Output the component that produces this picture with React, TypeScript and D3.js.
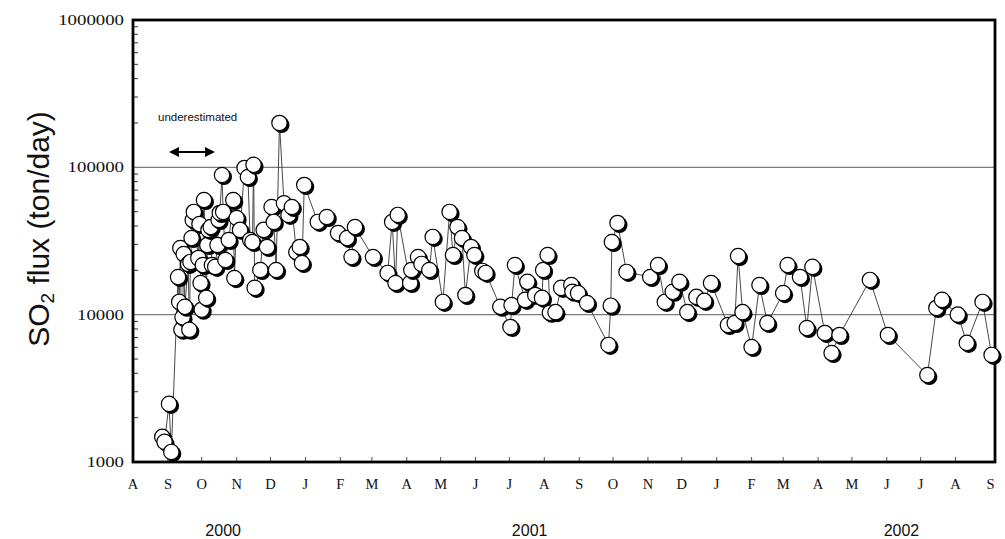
import React from "react";
import * as d3 from "d3";

// ---- data ----
const dates: string[] = [
  "2000-08-27","2000-08-29","2000-09-02","2000-09-04","2000-09-10","2000-09-11","2000-09-12","2000-09-13",
  "2000-09-14","2000-09-15","2000-09-16","2000-09-19","2000-09-20","2000-09-21","2000-09-22","2000-09-23",
  "2000-09-24","2000-09-28","2000-09-29","2000-09-30","2000-10-01","2000-10-02","2000-10-03","2000-10-05",
  "2000-10-06","2000-10-07","2000-10-09","2000-10-10","2000-10-13","2000-10-15","2000-10-16","2000-10-17",
  "2000-10-19","2000-10-20","2000-10-22","2000-10-25","2000-10-29","2000-10-30","2000-11-01","2000-11-04",
  "2000-11-08","2000-11-11","2000-11-13","2000-11-15","2000-11-16","2000-11-17","2000-11-22","2000-11-25",
  "2000-11-28","2000-12-02","2000-12-04","2000-12-06","2000-12-09","2000-12-13","2000-12-17","2000-12-20",
  "2000-12-24","2000-12-27","2000-12-29","2000-12-31","2001-01-12","2001-01-20","2001-01-30","2001-02-07",
  "2001-02-11","2001-02-14","2001-03-02","2001-03-15","2001-03-19","2001-03-22","2001-03-24","2001-04-04",
  "2001-04-05","2001-04-11","2001-04-14","2001-04-21","2001-04-24","2001-05-03","2001-05-09","2001-05-12",
  "2001-05-16","2001-05-20","2001-05-23","2001-05-28","2001-05-31","2001-06-07","2001-06-10","2001-06-23",
  "2001-07-02","2001-07-03","2001-07-06","2001-07-15","2001-07-17","2001-07-24","2001-07-30","2001-07-31",
  "2001-08-04","2001-08-06","2001-08-11","2001-08-16","2001-08-25","2001-08-26","2001-08-31","2001-09-08",
  "2001-09-27","2001-09-29","2001-09-30","2001-10-05","2001-10-13","2001-11-03","2001-11-10","2001-11-16",
  "2001-11-23","2001-11-29","2001-12-06","2001-12-14","2001-12-21","2001-12-27","2002-01-11","2002-01-17",
  "2002-01-20","2002-01-24","2002-02-01","2002-02-08","2002-02-15","2002-03-01","2002-03-05","2002-03-16",
  "2002-03-22","2002-03-27","2002-04-07","2002-04-13","2002-04-20","2002-05-17","2002-06-02","2002-07-07",
  "2002-07-15","2002-07-20","2002-08-03","2002-08-11","2002-08-25","2002-09-02",
];

const fluxValues: number[] = [
  1480, 1370, 2480, 1170, 18000, 12200, 28300, 7900,
  9600, 25800, 11300, 22100, 7900, 22800, 33100, 43900,
  49800, 24200, 41200, 16400, 10800, 21700, 60000, 13000,
  29700, 37600, 39300, 21700, 21100, 29700, 43900, 49000,
  88700, 49800, 23500, 32100, 60000, 17700, 45300, 37600,
  99000, 85900, 32100, 31100, 104000, 15200, 20100, 37600,
  28800, 53800, 42600, 20100, 200000, 57000, 47500, 53800,
  26600, 28800, 22400, 75900, 42600, 46000, 35800, 33100,
  24600, 39300, 24600, 19200, 42600, 16400, 47500, 16400,
  20100, 24600, 22100, 20100, 33700, 12200, 49800, 25400,
  39300, 33100, 13600, 28800, 25400, 19800, 19200, 11300,
  8250, 11600, 21700, 12600, 16700, 13600, 13000, 20100,
  25400, 10300, 10400, 15200, 15900, 14300, 14000, 12000,
  6230, 11500, 31100, 41900, 19500, 18000, 21700, 12200,
  14300, 16700, 10400, 13200, 12400, 16400, 8500, 8770,
  25000, 10400, 6030, 15900, 8770, 14000, 21700, 18000,
  8110, 21100, 7510, 5490, 7280, 17200, 7280, 3890,
  11100, 12600, 10000, 6430, 12200, 5330,
];

const monthLabels: string[] = [
  "A","S","O","N","D","J","F","M","A","M","J","J","A",
  "S","O","N","D","J","F","M","A","M","J","J","A","S",
];
const yearLabels: string[] = ["2000", "2001", "2002"];
const yearLabelAnchors: string[] = ["2000-10-20", "2001-07-19", "2002-06-14"];
const yTickValues: number[] = [1000, 10000, 100000, 1000000];
const gridValues: number[] = [10000, 100000];

const W = 1005;
const H = 539;
const left = 133, right = 995, top = 20, bottom = 462;

export default function App() {
  const parse = d3.timeParse("%Y-%m-%d");
  const x = d3
    .scaleTime()
    .domain([new Date(2000, 7, 1), new Date(2002, 8, 5)])
    .range([left, right]);
  const y = d3.scaleLog().domain([1000, 1000000]).range([bottom, top]);

  const pts = dates.map((d, i) => ({ date: parse(d) as Date, v: fluxValues[i] }));
  const line = d3
    .line<{ date: Date; v: number }>()
    .x((d) => x(d.date))
    .y((d) => y(d.v));

  const months = d3.timeMonth.range(new Date(2000, 7, 1), new Date(2002, 8, 2));

  const minor: number[] = [];
  for (let e = 3; e < 6; e++) {
    for (let k = 2; k <= 9; k++) minor.push(k * Math.pow(10, e));
  }

  const r = 7.7;

  return (
    <svg
      width={W}
      height={H}
      style={{ position: "absolute", left: 0, top: 0, background: "#fff" }}
    >
      <rect x={0} y={0} width={W} height={H} fill="#fff" />
      {gridValues.map((g) => (
        <line key={g} x1={left} x2={right} y1={y(g)} y2={y(g)} stroke="#7a7a7a" strokeWidth={1.4} />
      ))}
      {minor.map((m) => (
        <line key={m} x1={left} x2={left + 5} y1={y(m)} y2={y(m)} stroke="#333" strokeWidth={1} />
      ))}
      {months.map((m, i) =>
        i > 0 && i < months.length - 1 ? (
          <line key={i} x1={x(m)} x2={x(m)} y1={bottom} y2={bottom - 5} stroke="#555" strokeWidth={1} />
        ) : null
      )}
      <rect x={left} y={top} width={right - left} height={bottom - top} fill="none" stroke="#000" strokeWidth={2.8} />

      {yTickValues.map((t) => {
        const s = String(t);
        return (
          <text
            key={t}
            x={124}
            y={y(t) + 5}
            textAnchor="end"
            fontFamily="'Liberation Serif', 'Times New Roman', serif"
            fontSize={15.5}
            textLength={s.length * 9.4}
            lengthAdjust="spacingAndGlyphs"
            fill="#111"
          >
            {s}
          </text>
        );
      })}

      {months.map((m, i) => (
        <text
          key={i}
          x={x(m)}
          y={489}
          textAnchor="middle"
          fontFamily="'Liberation Serif', 'Times New Roman', serif"
          fontSize={14.5}
          fill="#111"
        >
          {monthLabels[i]}
        </text>
      ))}

      {yearLabels.map((yl, i) => (
        <text
          key={yl}
          x={x(parse(yearLabelAnchors[i]) as Date)}
          y={536}
          textAnchor="middle"
          fontFamily="'Liberation Sans', Arial, sans-serif"
          fontSize={16}
          fill="#111"
        >
          {yl}
        </text>
      ))}

      <text
        transform="translate(49,229) rotate(-90)"
        textAnchor="middle"
        fontFamily="'Liberation Sans', Arial, sans-serif"
        fontSize={30}
        fill="#111"
      >
        SO
        <tspan fontSize={19} dy={5}>2</tspan>
        <tspan dy={-5}> flux (ton/day)</tspan>
      </text>

      <text
        x={158}
        y={121}
        fontFamily="'Liberation Sans', Arial, sans-serif"
        fontSize={11.5}
        fill="#111"
      >
        underestimated
      </text>
      <line x1={176} x2={208} y1={152} y2={152} stroke="#000" strokeWidth={2} />
      <path d="M169,152 L179,147 L179,157 Z" fill="#000" />
      <path d="M215,152 L205,147 L205,157 Z" fill="#000" />

      <path d={line(pts) || ""} fill="none" stroke="#333" strokeWidth={0.9} />

      {pts.map((p, i) => (
        <g key={i}>
          <circle cx={x(p.date) + 2} cy={y(p.v) + 2} r={r + 0.3} fill="#000" />
          <circle cx={x(p.date)} cy={y(p.v)} r={r} fill="#fff" stroke="#000" strokeWidth={1.2} />
        </g>
      ))}
    </svg>
  );
}
